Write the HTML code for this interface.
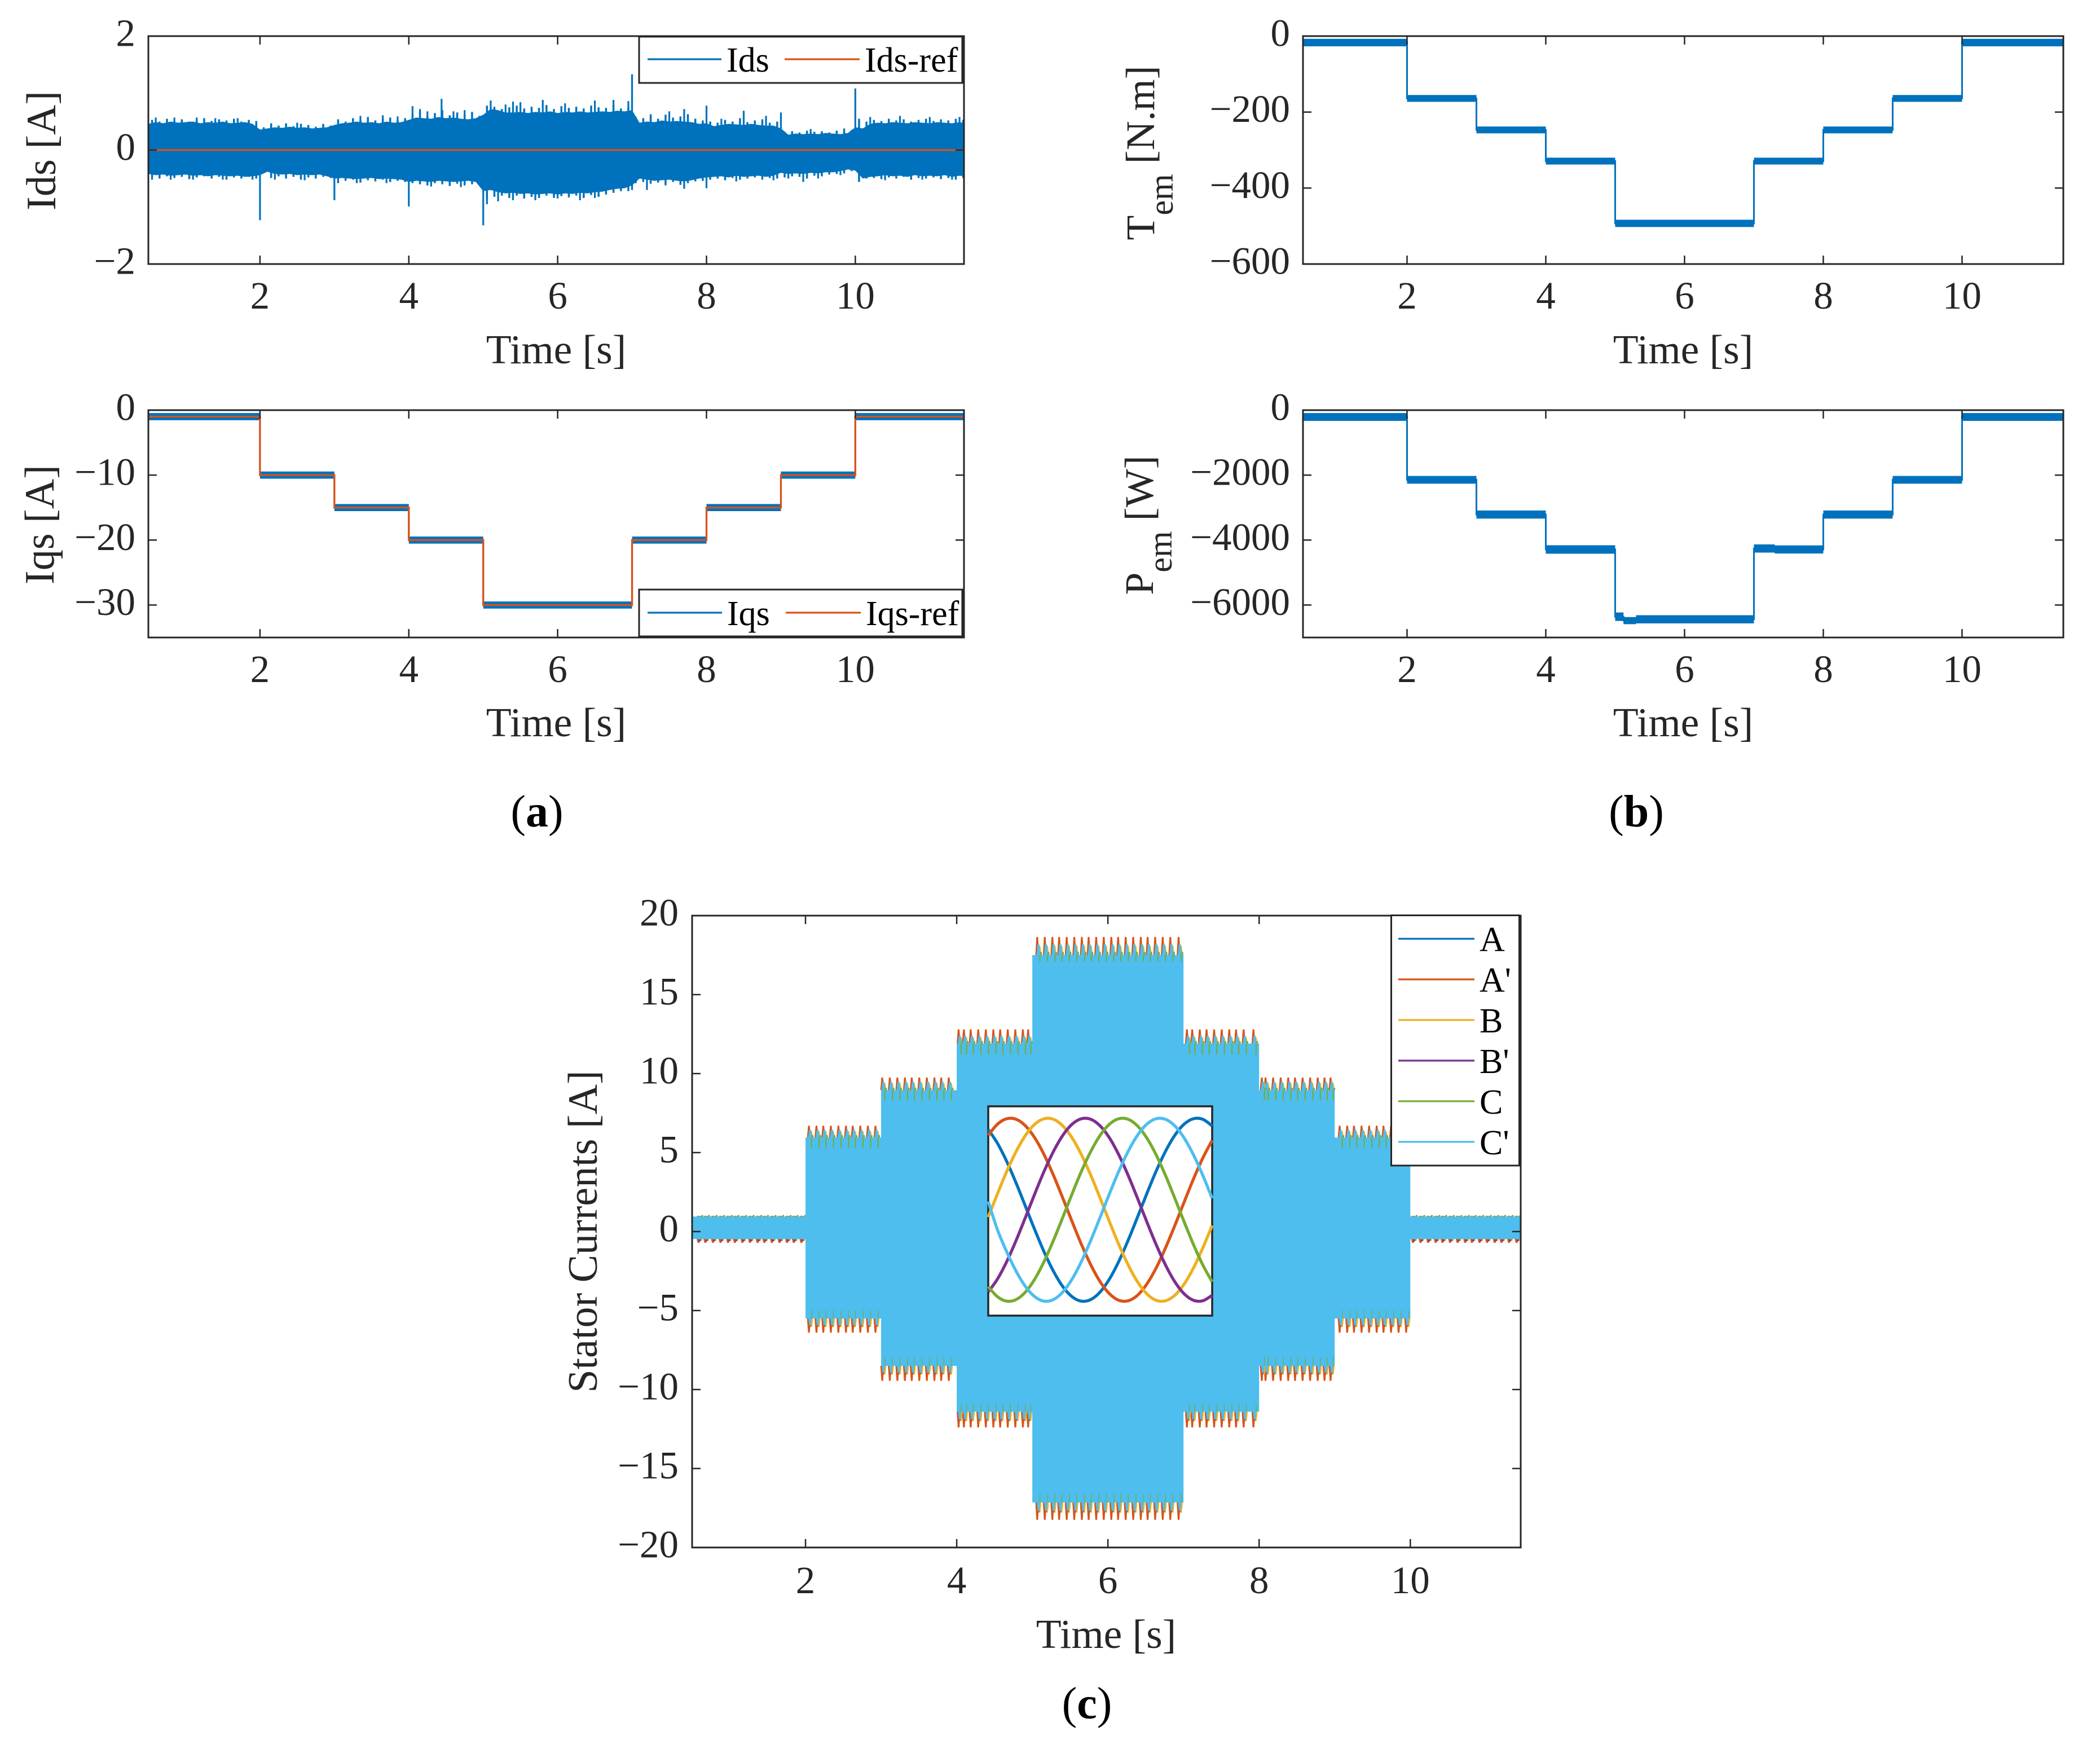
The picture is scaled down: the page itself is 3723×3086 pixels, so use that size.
<!DOCTYPE html>
<html lang="en">
<head>
<meta charset="utf-8">
<title>Ids, Iqs, Tem, Pem and Stator Currents</title>
<style>
html,body{margin:0;padding:0;background:#fff;}
svg{display:block;}
text{font-family:"Liberation Serif","Times New Roman",serif;}
.tick-label{font-size:69px;fill:#262626;}
.axis-title{font-size:74px;fill:#262626;}
.x-title{font-size:73.5px;fill:#262626;}
.legend-text{font-size:62px;fill:#000;}
.caption{font-size:80px;fill:#000;}
</style>
</head>
<body>
<svg id="figure" xmlns="http://www.w3.org/2000/svg" width="3723" height="3086" viewBox="0 0 3723 3086">
<defs>
<clipPath id="clip-ids"><rect x="263" y="64" width="1446" height="404"/></clipPath>
<clipPath id="clip-iqs"><rect x="263" y="727" width="1446" height="403"/></clipPath>
<clipPath id="clip-tem"><rect x="2310" y="64" width="1348" height="404"/></clipPath>
<clipPath id="clip-pem"><rect x="2310" y="727" width="1348" height="403"/></clipPath>
<clipPath id="clip-stator"><rect x="1227" y="1623" width="1469" height="1120"/></clipPath>
</defs>
<rect x="0" y="0" width="3723" height="3086" fill="#fff"/>

<g>
<g id="marks-ids" clip-path="url(#clip-ids)"></g>
<g id="axes-ids"></g>
<text class="axis-title" transform="translate(98,267) rotate(-90)" text-anchor="middle">Ids [A]</text>
<text class="x-title" x="986" y="644" text-anchor="middle">Time [s]</text>
<g>
<rect x="1133" y="65" width="573" height="82" fill="#fff" stroke="#262626" stroke-width="3"/>
<line x1="1148" y1="105" x2="1279" y2="105" stroke="#0072BD" stroke-width="3.3"/>
<text class="legend-text" x="1288" y="127">Ids</text>
<line x1="1391" y1="105" x2="1524" y2="105" stroke="#D95319" stroke-width="3.3"/>
<text class="legend-text" x="1533" y="127">Ids-ref</text>
</g>
</g>

<g>
<g id="marks-iqs" clip-path="url(#clip-iqs)"></g>
<g id="axes-iqs"></g>
<text class="axis-title" transform="translate(95,930) rotate(-90)" text-anchor="middle">Iqs [A]</text>
<text class="x-title" x="986" y="1305" text-anchor="middle">Time [s]</text>
<g>
<rect x="1133" y="1045" width="573" height="83" fill="#fff" stroke="#262626" stroke-width="3"/>
<line x1="1148" y1="1086" x2="1280" y2="1086" stroke="#0072BD" stroke-width="3.3"/>
<text class="legend-text" x="1289" y="1108">Iqs</text>
<line x1="1393" y1="1086" x2="1526" y2="1086" stroke="#D95319" stroke-width="3.3"/>
<text class="legend-text" x="1535" y="1108">Iqs-ref</text>
</g>
</g>

<g>
<g id="marks-tem" clip-path="url(#clip-tem)"></g>
<g id="axes-tem"></g>
<text class="axis-title" style="font-size:72px" transform="translate(2046,271) rotate(-90)" text-anchor="middle">T<tspan dy="33" font-size="60">em</tspan><tspan dy="-33"> [N.m]</tspan></text>
<text class="x-title" x="2984" y="644" text-anchor="middle">Time [s]</text>
</g>

<g>
<g id="marks-pem" clip-path="url(#clip-pem)"></g>
<g id="axes-pem"></g>
<text class="axis-title" style="font-size:72px" transform="translate(2044,931) rotate(-90)" text-anchor="middle">P<tspan dy="33" font-size="60">em</tspan><tspan dy="-33"> [W]</tspan></text>
<text class="x-title" x="2984" y="1305" text-anchor="middle">Time [s]</text>
</g>

<g>
<g id="marks-stator" clip-path="url(#clip-stator)"></g>
<g id="axes-stator"></g>
<text class="axis-title" transform="translate(1058,2183) rotate(-90)" text-anchor="middle">Stator Currents [A]</text>
<text class="x-title" x="1961" y="2921" text-anchor="middle">Time [s]</text>
<g id="inset">
<rect x="1752" y="1961" width="397" height="371" fill="#fff" stroke="#262626" stroke-width="3.5"/>
</g>
<g>
<rect x="2466.5" y="1622.5" width="227" height="443.5" fill="#fff" stroke="#262626" stroke-width="3"/>
<line x1="2479" y1="1664" x2="2614" y2="1664" stroke="#0072BD" stroke-width="3.3"/>
<text class="legend-text" x="2623" y="1686">A</text>
<line x1="2479" y1="1736" x2="2614" y2="1736" stroke="#D95319" stroke-width="3.3"/>
<text class="legend-text" x="2623" y="1758">A'</text>
<line x1="2479" y1="1808" x2="2614" y2="1808" stroke="#EDB120" stroke-width="3.3"/>
<text class="legend-text" x="2623" y="1830">B</text>
<line x1="2479" y1="1880" x2="2614" y2="1880" stroke="#7E2F8E" stroke-width="3.3"/>
<text class="legend-text" x="2623" y="1902">B'</text>
<line x1="2479" y1="1952" x2="2614" y2="1952" stroke="#77AC30" stroke-width="3.3"/>
<text class="legend-text" x="2623" y="1974">C</text>
<line x1="2479" y1="2024" x2="2614" y2="2024" stroke="#4DBEEE" stroke-width="3.3"/>
<text class="legend-text" x="2623" y="2046">C'</text>
</g>
</g>

<text class="caption" x="952" y="1465" text-anchor="middle">(<tspan font-weight="bold">a</tspan>)</text>
<text class="caption" x="2901" y="1465" text-anchor="middle">(<tspan font-weight="bold">b</tspan>)</text>
<text class="caption" x="1927" y="3046" text-anchor="middle">(<tspan font-weight="bold">c</tspan>)</text>
</svg>

<script>
// ---------- shared axis values ----------
const xLimits = [0.5, 11.46];
const xTickValues = [2, 4, 6, 8, 10];
const xTickLabels = ['2', '4', '6', '8', '10'];

// ---------- Ids panel data ----------
const idsYTicks = [2, 0, -2];
const idsYLabels = ['2', '0', '\u22122'];
const idsTimes = [0.5,0.6,0.7,0.8,0.9,1.0,1.1,1.2,1.3,1.4,1.5,1.6,1.7,1.8,1.9,
 2.0,2.1,2.2,2.3,2.4,2.5,2.6,2.7,2.8,2.9,
 3.0,3.1,3.2,3.3,3.4,3.5,3.6,3.7,3.8,3.9,
 4.0,4.1,4.2,4.3,4.4,4.5,4.6,4.7,4.8,4.9,
 5.0,5.1,5.2,5.3,5.4,5.5,5.6,5.7,5.8,5.9,6.0,6.1,6.2,6.3,6.4,6.5,6.6,6.7,6.8,6.9,
 7.0,7.1,7.2,7.3,7.4,7.5,7.6,7.7,7.8,7.9,
 8.0,8.1,8.2,8.3,8.4,8.5,8.6,8.7,8.8,8.9,
 9.0,9.1,9.2,9.3,9.4,9.5,9.6,9.7,9.8,9.9,
 10.0,10.1,10.2,10.3,10.4,10.5,10.6,10.7,10.8,10.9,11.0,11.1,11.2,11.3,11.4,11.5];
const idsUpper = [.46,.49,.47,.50,.48,.49,.50,.47,.49,.48,.50,.47,.48,.49,.46,
 .36,.38,.40,.39,.41,.39,.40,.38,.39,.40,
 .44,.47,.48,.50,.48,.49,.47,.50,.48,.49,
 .53,.57,.56,.55,.58,.56,.57,.55,.54,.56,
 .62,.72,.70,.66,.66,.67,.65,.67,.66,.68,.65,.67,.66,.68,.66,.67,.68,.67,.69,.68,
 .70,.48,.50,.49,.52,.50,.51,.50,.49,.46,
 .47,.42,.44,.46,.45,.44,.46,.44,.43,.43,
 .38,.27,.29,.28,.29,.28,.30,.29,.28,.30,
 .40,.38,.46,.48,.47,.49,.48,.47,.49,.48,.47,.49,.48,.47,.49,.47];
const idsLower = [-.42,-.44,-.43,-.45,-.44,-.43,-.45,-.44,-.46,-.44,-.45,-.46,-.45,-.47,-.46,
 -.44,-.38,-.42,-.43,-.42,-.44,-.43,-.44,-.43,-.46,
 -.50,-.49,-.50,-.51,-.50,-.49,-.51,-.50,-.51,-.52,
 -.56,-.54,-.55,-.56,-.54,-.55,-.56,-.55,-.54,-.56,
 -.72,-.70,-.74,-.76,-.75,-.77,-.76,-.78,-.77,-.76,-.78,-.76,-.77,-.75,-.76,-.74,-.73,-.70,-.68,-.67,
 -.62,-.50,-.52,-.54,-.53,-.52,-.54,-.55,-.53,-.50,
 -.48,-.47,-.46,-.48,-.45,-.47,-.46,-.45,-.47,-.45,
 -.40,-.42,-.41,-.42,-.40,-.41,-.39,-.39,-.37,-.34,
 -.36,-.50,-.47,-.46,-.44,-.46,-.45,-.47,-.44,-.46,-.45,-.46,-.44,-.47,-.45,-.46];
const idsHairTimes = [0.55,0.65,0.75,0.85,0.95,1.05,1.15,1.25,1.35,1.45,1.55,1.65,1.75,1.85,1.95,
 2.05,2.15,2.25,2.35,2.45,2.55,2.65,2.75,2.85,2.95,
 3.05,3.15,3.25,3.35,3.45,3.55,3.65,3.75,3.85,3.95,
 4.05,4.15,4.25,4.35,4.45,4.55,4.65,4.75,4.85,4.95,
 5.05,5.15,5.25,5.35,5.45,5.55,5.65,5.75,5.85,5.95,6.05,6.15,6.25,6.35,6.45,6.55,6.65,6.75,6.85,6.95,
 7.05,7.15,7.25,7.35,7.45,7.55,7.65,7.75,7.85,7.95,
 8.05,8.15,8.25,8.35,8.45,8.55,8.65,8.75,8.85,8.95,
 9.05,9.15,9.25,9.35,9.45,9.55,9.65,9.75,9.85,9.95,
 10.05,10.15,10.25,10.35,10.45,10.55,10.65,10.75,10.85,10.95,11.05,11.15,11.25,11.35,11.45];
const idsHairUpper = [.53,.50,.55,.51,.54,.50,.53,.56,.51,.54,.52,.55,.50,.53,.51,
 .40,.45,.43,.47,.42,.46,.44,.41,.45,.43,
 .54,.50,.56,.53,.58,.52,.55,.57,.53,.56,
 .63,.68,.60,.65,.70,.61,.66,.62,.67,.60,
 .78,.76,.72,.75,.78,.73,.76,.74,.79,.72,.77,.74,.76,.73,.78,.75,.74,.79,.73,.76,
 .58,.56,.60,.55,.62,.57,.59,.63,.55,.52,
 .50,.48,.53,.50,.56,.49,.52,.54,.48,.50,
 .32,.33,.31,.34,.32,.33,.31,.34,.33,.35,
 .55,.50,.53,.51,.55,.52,.54,.50,.53,.55,.51,.54,.52,.55,.53];
const idsHairLower = [-.47,-.50,-.46,-.49,-.47,-.51,-.48,-.46,-.50,-.47,-.52,-.48,-.50,-.47,-.50,
 -.40,-.49,-.46,-.50,-.47,-.52,-.48,-.50,-.47,-.49,
 -.58,-.54,-.52,-.57,-.53,-.55,-.52,-.56,-.54,-.56,
 -.58,-.60,-.62,-.58,-.60,-.63,-.59,-.62,-.60,-.58,
 -.86,-.82,-.80,-.84,-.80,-.85,-.82,-.84,-.80,-.84,-.81,-.83,-.80,-.84,-.79,-.82,-.78,-.75,-.72,-.72,
 -.58,-.56,-.59,-.57,-.60,-.56,-.61,-.58,-.55,-.54,
 -.52,-.50,-.53,-.49,-.52,-.50,-.48,-.52,-.49,-.50,
 -.48,-.46,-.47,-.50,-.45,-.46,-.43,-.42,-.41,-.37,
 -.55,-.50,-.49,-.51,-.48,-.50,-.47,-.52,-.49,-.50,-.48,-.51,-.49,-.52,-.49];
const idsPeakTimes = [0.6,0.85,1.15,1.4,1.7,2.15,2.5,2.85,3.35,3.65,3.85,4.05,4.15,4.25,4.44,4.6,4.75,5.1,5.3,5.4,5.5,5.8,6.1,6.5,6.75,6.95,7.0,7.25,7.5,7.7,8.0,8.2,8.5,8.8,9.0,9.4,9.85,10.0,10.2,10.6,11.0,11.4,
 0.55,0.8,1.1,1.5,1.9,2.0,2.2,2.6,3.0,3.3,3.7,4.0,4.3,4.7,5.0,5.05,5.2,5.4,5.7,6.0,6.3,6.5,7.0,7.2,7.45,7.7,8.0,8.4,8.9,9.1,9.3,9.5,9.8,10.05,10.4,10.9,11.3];
const idsPeakValues = [.57,.57,.57,.56,.56,.47,.48,.46,.60,.61,.59,.77,.72,.68,.90,.68,.70,.87,.80,.85,.84,.88,.82,.87,.88,.86,1.33,.63,.68,.72,.78,.55,.69,.60,.66,.37,.38,1.08,.58,.60,.58,.58,
 -.52,-.52,-.52,-.52,-.52,-1.23,-.52,-.53,-.88,-.58,-.58,-.99,-.64,-.65,-1.32,-.95,-.90,-.88,-.88,-.85,-.88,-.84,-.70,-.70,-.62,-.68,-.67,-.55,-.53,-.50,-.56,-.50,-.44,-.56,-.53,-.52,-.52];
const idsRefTimes = [0.5, 11.5];
const idsRefValues = [0, 0];

// ---------- Iqs panel data ----------
const iqsYTicks = [0, -10, -20, -30];
const iqsYLabels = ['0', '\u221210', '\u221220', '\u221230'];
const iqsTimes = [0.5, 2, 3, 4, 5, 7, 8, 9, 10, 11.5];
const iqsLevels = [-1, -10, -15, -20, -30, -20, -15, -10, -1];
const iqsSpread = [0.55, 0.55, 0.55, 0.55, 0.55, 0.55, 0.55, 0.55, 0.55];
const iqsRefLevels = [-1, -10, -15, -20, -30, -20, -15, -10, -1];

// ---------- Tem panel data ----------
const temYTicks = [0, -200, -400, -600];
const temYLabels = ['0', '\u2212200', '\u2212400', '\u2212600'];
const temTimes = [0.5, 2, 3, 4, 5, 7, 8, 9, 10, 11.5];
const temLevels = [-17, -164, -247, -329, -493, -329, -247, -164, -17];
const temSpread = [10, 9, 9, 9, 9.5, 9, 9, 9, 10];

// ---------- Pem panel data ----------
const pemYTicks = [0, -2000, -4000, -6000];
const pemYLabels = ['0', '\u22122000', '\u22124000', '\u22126000'];
const pemTimes = [0.5, 2, 3, 4, 5, 5.12, 5.3, 7, 7.3, 8, 9, 10, 11.5];
const pemLevels = [-210, -2145, -3215, -4290, -6360, -6480, -6440, -4260, -4290, -3215, -2145, -210];
const pemSpread = [120, 120, 125, 130, 130, 110, 125, 125, 125, 125, 120, 120];

// ---------- Stator currents data ----------
const statorYTicks = [20, 15, 10, 5, 0, -5, -10, -15, -20];
const statorYLabels = ['20', '15', '10', '5', '0', '\u22125', '\u221210', '\u221215', '\u221220'];
const phaseEdges = [0.5, 2, 3, 4, 5, 7, 8, 9, 10, 11.5];
const solidTop = [.95, 5.95, 8.95, 11.9, 17.5, 11.9, 8.95, 5.95, .95];
const solidBottom = [-.47, -5.5, -8.5, -11.4, -17.15, -11.4, -8.5, -5.5, -.47];
const aPrimeTop = [1.0, 6.7, 9.75, 12.8, 18.65, 12.8, 9.75, 6.7, 1.0];
const bTop = [1.0, 6.35, 9.4, 12.3, 18.1, 12.3, 9.4, 6.35, 1.0];
const cPrimeTop = [.98, 6.45, 9.5, 12.4, 18.2, 12.4, 9.5, 6.45, .98];
const cDipTop = [.9, 5.3, 8.3, 11.2, 17.1, 11.2, 8.3, 5.3, .9];
const cCapTop = [1.05, 6.1, 9.1, 12.05, 17.7, 12.05, 9.1, 6.1, 1.05];
const aPrimeBottom = [-.72, -6.4, -9.45, -12.4, -18.25, -12.4, -9.45, -6.4, -.72];
const bBottom = [-.6, -6.05, -9.05, -12.0, -17.8, -12.0, -9.05, -6.05, -.6];
const bPrimeBottom = [-.62, -6.0, -9.0, -11.95, -17.75, -11.95, -9.0, -6.0, -.62];
const cPrimeBottom = [-.5, -5.95, -8.95, -11.9, -17.7, -11.9, -8.95, -5.95, -.5];
const cDipBottom = [-.47, -5.0, -7.95, -10.9, -16.6, -10.9, -7.95, -5.0, -.47];
const rippleTimes = [0.59,0.68,0.78,0.88,0.98,1.07,1.17,1.27,1.37,1.46,1.56,1.66,1.76,1.85,1.95,
 2.05,2.15,2.24,2.34,2.44,2.54,2.63,2.73,2.83,2.93,
 3.02,3.12,3.22,3.32,3.41,3.51,3.61,3.71,3.80,3.90,
 4.03,4.10,4.19,4.29,4.39,4.49,4.58,4.68,4.78,4.88,4.95,
 5.07,5.17,5.27,5.36,5.46,5.56,5.66,5.75,5.85,5.95,6.05,6.14,6.24,6.34,6.44,6.53,6.63,6.73,6.83,6.94,
 7.05,7.12,7.22,7.31,7.41,7.51,7.61,7.70,7.80,7.93,
 8.04,8.09,8.19,8.29,8.39,8.48,8.58,8.68,8.78,8.87,8.95,
 9.07,9.17,9.26,9.36,9.46,9.56,9.65,9.75,9.85,9.95,
 10.04,10.14,10.24,10.34,10.43,10.53,10.63,10.73,10.82,10.92,11.02,11.12,11.21,11.31,11.41];

// ---------- Inset data (ms, A) ----------
const insetTimes = [0,4,8,12,16,20,24,28,32,36,40,44,48,52,56,60,64,68,72,76,80,84,88,92,96];
const insetA = [15.57,12.90,9.40,5.29,.84,-3.65,-7.88,-11.55,-14.47,-16.40,-17.24,-16.92,-15.47,-12.98,-9.61,-5.58,-1.17,3.33,7.63,11.41,14.48,16.60,17.64,17.52,16.25];
const insetAPrime = [14.48,16.60,17.64,17.52,16.25,13.94,10.71,6.79,2.42,-2.09,-6.44,-10.33,-13.54,-15.84,-17.08,-17.16,-16.11,-13.96,-10.88,-7.05,-2.78,1.72,6.13,10.14,13.49];
const insetB = [-1.17,3.33,7.63,11.41,14.48,16.60,17.64,17.52,16.25,13.94,10.71,6.79,2.42,-2.09,-6.44,-10.33,-13.54,-15.84,-17.08,-17.16,-16.11,-13.96,-10.88,-7.05,-2.78];
const insetBPrime = [-15.47,-12.98,-9.61,-5.58,-1.17,3.33,7.63,11.41,14.48,16.60,17.64,17.52,16.25,13.94,10.71,6.79,2.42,-2.09,-6.44,-10.33,-13.54,-15.84,-17.08,-17.16,-16.11];
const insetC = [-14.47,-16.40,-17.24,-16.92,-15.47,-12.98,-9.61,-5.58,-1.17,3.33,7.63,11.41,14.48,16.60,17.64,17.52,16.25,13.94,10.71,6.79,2.42,-2.09,-6.44,-10.33,-13.54];
const insetCPrime = [1.8,-3.65,-7.88,-11.55,-14.47,-16.40,-17.24,-16.92,-15.47,-12.98,-9.61,-5.58,-1.17,3.33,7.63,11.41,14.48,16.60,17.64,17.52,16.25,13.94,10.71,6.79,2.42];

// ---------- helpers ----------
const NS = 'http://www.w3.org/2000/svg';
const BLUE = '#0072BD', ORANGE = '#D95319', YELLOW = '#EDB120', PURPLE = '#7E2F8E', GREEN = '#77AC30', SKY = '#4DBEEE';

function scale(d0, d1, r0, r1) {
  return function (v) { return r0 + (v - d0) * (r1 - r0) / (d1 - d0); };
}
function node(parent, tag, attrs, text) {
  const el = document.createElementNS(NS, tag);
  Object.keys(attrs).forEach(function (k) { el.setAttribute(k, attrs[k]); });
  if (text !== undefined) el.textContent = text;
  parent.appendChild(el);
  return el;
}
function n(v) { return v.toFixed(2); }

function drawAxes(prefix, left, right, top, bottom, xs, ys, yTicks, yLabels, labelRight, xLabelBaseline) {
  const g = document.getElementById('axes-' + prefix);
  const tickLen = 15;
  xTickValues.forEach(function (v, i) {
    const px = xs(v);
    const tb = node(g, 'line', {x1: px, x2: px, y1: bottom, y2: bottom - tickLen, stroke: '#262626', 'stroke-width': 2.5});
    
    
    const tt = node(g, 'line', {x1: px, x2: px, y1: top, y2: top + tickLen, stroke: '#262626', 'stroke-width': 2.5});
    
    
    const lb = node(g, 'text', {x: px, y: xLabelBaseline, 'text-anchor': 'middle', 'class': 'tick-label'}, xTickLabels[i]);
    
    
  });
  yTicks.forEach(function (v, i) {
    const py = ys(v);
    const tl = node(g, 'line', {x1: left, x2: left + tickLen, y1: py, y2: py, stroke: '#262626', 'stroke-width': 2.5});
    
    
    const tr = node(g, 'line', {x1: right, x2: right - tickLen, y1: py, y2: py, stroke: '#262626', 'stroke-width': 2.5});
    
    
    const lb = node(g, 'text', {x: labelRight, y: py + 17.5, 'text-anchor': 'end', 'class': 'tick-label'}, yLabels[i]);
    
    
  });
  const frame = node(g, 'rect', {x: left, y: top, width: right - left, height: bottom - top, fill: 'none', stroke: '#262626', 'stroke-width': 3});
  
  
}

function stepPath(times, levels, xs, ys) {
  let d = 'M' + n(xs(times[0])) + ' ' + n(ys(levels[0]));
  levels.forEach(function (lv, i) {
    d += 'V' + n(ys(lv)) + 'H' + n(xs(times[i + 1]));
  });
  return d;
}
function bandPath(times, levels, spread, xs, ys) {
  let d = '';
  levels.forEach(function (lv, i) {
    const x0 = xs(times[i]), x1 = xs(times[i + 1]);
    d += 'M' + n(x0) + ' ' + n(ys(lv + spread[i])) + 'H' + n(x1) + 'V' + n(ys(lv - spread[i])) + 'H' + n(x0) + 'Z';
  });
  return d;
}
function phaseIndex(t) {
  for (let i = 0; i < phaseEdges.length - 1; i++) {
    if (t < phaseEdges[i + 1]) return i;
  }
  return phaseEdges.length - 2;
}
function teethPath(peaks, bases, offset, halfWidth, xs, ys) {
  let d = '';
  rippleTimes.forEach(function (t) {
    const p = phaseIndex(t);
    const cx = xs(t + offset);
    const yb = ys(bases[p]), yp = ys(peaks[p]);
    d += 'M' + n(cx - halfWidth) + ' ' + n(yb) + 'L' + n(cx - halfWidth * 0.45) + ' ' + n(yp) + 'H' + n(cx + halfWidth * 0.45) + 'L' + n(cx + halfWidth) + ' ' + n(yb) + 'Z';
  });
  return d;
}
function hairPath(tips, bases, offset, xs, ys) {
  let d = '';
  rippleTimes.forEach(function (t) {
    const p = phaseIndex(t);
    const cx = xs(t + offset);
    d += 'M' + n(cx) + ' ' + n(ys(bases[p])) + 'V' + n(ys(tips[p]));
  });
  return d;
}
function smoothPath(ts, vs, xs, ys) {
  const px = ts.map(xs), py = vs.map(ys);
  let d = 'M' + n(px[0]) + ' ' + n(py[0]);
  for (let i = 0; i < px.length - 1; i++) {
    const i0 = Math.max(0, i - 1), i3 = Math.min(px.length - 1, i + 2);
    const c1x = px[i] + (px[i + 1] - px[i0]) / 6, c1y = py[i] + (py[i + 1] - py[i0]) / 6;
    const c2x = px[i + 1] - (px[i3] - px[i]) / 6, c2y = py[i + 1] - (py[i3] - py[i]) / 6;
    d += 'C' + n(c1x) + ' ' + n(c1y) + ' ' + n(c2x) + ' ' + n(c2y) + ' ' + n(px[i + 1]) + ' ' + n(py[i + 1]);
  }
  return d;
}

// ---------- Ids ----------
(function () {
  const xs = scale(xLimits[0], xLimits[1], 263, 1709), ys = scale(-2, 2, 468, 64);
  const g = document.getElementById('marks-ids');
  let d = 'M' + n(xs(idsTimes[0])) + ' ' + n(ys(idsUpper[0]));
  idsTimes.forEach(function (t, i) { d += 'L' + n(xs(t)) + ' ' + n(ys(idsUpper[i])); });
  for (let i = idsTimes.length - 1; i >= 0; i--) { d += 'L' + n(xs(idsTimes[i])) + ' ' + n(ys(idsLower[i])); }
  const band = node(g, 'path', {d: d + 'Z', fill: BLUE});
  
  
  let hr = '';
  idsHairTimes.forEach(function (t, i) {
    hr += 'M' + n(xs(t)) + ' ' + n(ys(idsHairLower[i])) + 'V' + n(ys(idsHairUpper[i]));
  });
  const hairs = node(g, 'path', {d: hr, stroke: BLUE, 'stroke-width': 3.5, fill: 'none'});
  
  
  let sp = '';
  idsPeakTimes.forEach(function (t, i) { sp += 'M' + n(xs(t)) + ' ' + n(ys(0)) + 'V' + n(ys(idsPeakValues[i])); });
  const spikes = node(g, 'path', {d: sp, stroke: BLUE, 'stroke-width': 3.2, fill: 'none'});
  
  
  const ref = node(g, 'path', {d: 'M' + n(xs(idsRefTimes[0])) + ' ' + n(ys(idsRefValues[0])) + 'L' + n(xs(idsRefTimes[1])) + ' ' + n(ys(idsRefValues[1])), stroke: ORANGE, 'stroke-width': 3.3, fill: 'none'});
  
  
  drawAxes('ids', 263, 1709, 64, 468, xs, ys, idsYTicks, idsYLabels, 240, 547);
})();

// ---------- Iqs ----------
(function () {
  const xs = scale(xLimits[0], xLimits[1], 263, 1709), ys = scale(-35, 0, 1130, 727);
  const g = document.getElementById('marks-iqs');
  const band = node(g, 'path', {d: bandPath(iqsTimes, iqsLevels, iqsSpread, xs, ys), fill: BLUE});
  
  
  const ln = node(g, 'path', {d: stepPath(iqsTimes, iqsLevels, xs, ys), stroke: BLUE, 'stroke-width': 3, fill: 'none'});
  
  
  const ref = node(g, 'path', {d: stepPath(iqsTimes, iqsRefLevels, xs, ys), stroke: ORANGE, 'stroke-width': 3.3, fill: 'none'});
  
  
  drawAxes('iqs', 263, 1709, 727, 1130, xs, ys, iqsYTicks, iqsYLabels, 240, 1209);
})();

// ---------- Tem ----------
(function () {
  const xs = scale(xLimits[0], xLimits[1], 2310, 3658), ys = scale(-600, 0, 468, 64);
  const g = document.getElementById('marks-tem');
  const band = node(g, 'path', {d: bandPath(temTimes, temLevels, temSpread, xs, ys), fill: BLUE});
  
  
  const ln = node(g, 'path', {d: stepPath(temTimes, temLevels, xs, ys), stroke: BLUE, 'stroke-width': 3, fill: 'none'});
  
  
  drawAxes('tem', 2310, 3658, 64, 468, xs, ys, temYTicks, temYLabels, 2287, 547);
})();

// ---------- Pem ----------
(function () {
  const xs = scale(xLimits[0], xLimits[1], 2310, 3658), ys = scale(-7000, 0, 1130, 727);
  const g = document.getElementById('marks-pem');
  const band = node(g, 'path', {d: bandPath(pemTimes, pemLevels, pemSpread, xs, ys), fill: BLUE});
  
  
  const ln = node(g, 'path', {d: stepPath(pemTimes, pemLevels, xs, ys), stroke: BLUE, 'stroke-width': 3, fill: 'none'});
  
  
  drawAxes('pem', 2310, 3658, 727, 1130, xs, ys, pemYTicks, pemYLabels, 2287, 1209);
})();

// ---------- Stator currents ----------
(function () {
  const xs = scale(xLimits[0], xLimits[1], 1227, 2696), ys = scale(-20, 20, 2743, 1623);
  const g = document.getElementById('marks-stator');

  const t1 = node(g, 'path', {d: teethPath(aPrimeTop, solidTop, -0.005, 3.4, xs, ys), fill: ORANGE});
  
  
  const t2 = node(g, 'path', {d: teethPath(aPrimeBottom, solidBottom, -0.005, 3.4, xs, ys), fill: ORANGE});
  
  
  const t3 = node(g, 'path', {d: teethPath(bTop, solidTop, 0.025, 3.4, xs, ys), fill: YELLOW});
  
  
  const t4 = node(g, 'path', {d: teethPath(bBottom, solidBottom, 0.025, 3.4, xs, ys), fill: YELLOW});
  
  
  const t5 = node(g, 'path', {d: teethPath(bPrimeBottom, solidBottom, 0.012, 2.4, xs, ys), fill: PURPLE});
  
  
  const t6 = node(g, 'path', {d: teethPath(cPrimeTop, solidTop, 0.01, 3.6, xs, ys), fill: SKY});
  
  
  const t7 = node(g, 'path', {d: teethPath(cPrimeBottom, solidBottom, 0.01, 3.0, xs, ys), fill: SKY});
  
  
  const cap = node(g, 'path', {d: hairPath(cCapTop, solidTop, 0.045, xs, ys), stroke: GREEN, 'stroke-width': 3, fill: 'none'});
  
  

  let d = 'M' + n(xs(phaseEdges[0])) + ' ' + n(ys(solidTop[0]));
  solidTop.forEach(function (v, i) { d += 'V' + n(ys(v)) + 'H' + n(xs(phaseEdges[i + 1])); });
  for (let i = solidBottom.length - 1; i >= 0; i--) { d += 'V' + n(ys(solidBottom[i])) + 'H' + n(xs(phaseEdges[i])); }
  const solid = node(g, 'path', {d: d + 'Z', fill: SKY});
  
  

  const h1 = node(g, 'path', {d: hairPath(cDipTop, solidTop, 0.03, xs, ys), stroke: GREEN, 'stroke-width': 2, fill: 'none'});
  
  
  const h2 = node(g, 'path', {d: hairPath(cDipBottom, solidBottom, 0.03, xs, ys), stroke: GREEN, 'stroke-width': 1.5, fill: 'none', opacity: 0.8});
  
  

  drawAxes('stator', 1227, 2696, 1623, 2743, xs, ys, statorYTicks, statorYLabels, 1203, 2824);

  const ix = scale(0, 96, 1752, 2149), iy = scale(-20, 20, 2332, 1961);
  const ig = document.getElementById('inset');
  const w = 5.3;
  const c1 = node(ig, 'path', {d: smoothPath(insetTimes, insetA, ix, iy), stroke: BLUE, 'stroke-width': w, fill: 'none'});
  
  
  const c2 = node(ig, 'path', {d: smoothPath(insetTimes, insetAPrime, ix, iy), stroke: ORANGE, 'stroke-width': w, fill: 'none'});
  
  
  const c3 = node(ig, 'path', {d: smoothPath(insetTimes, insetB, ix, iy), stroke: YELLOW, 'stroke-width': w, fill: 'none'});
  
  
  const c4 = node(ig, 'path', {d: smoothPath(insetTimes, insetBPrime, ix, iy), stroke: PURPLE, 'stroke-width': w, fill: 'none'});
  
  
  const c5 = node(ig, 'path', {d: smoothPath(insetTimes, insetC, ix, iy), stroke: GREEN, 'stroke-width': w, fill: 'none'});
  
  
  const c6 = node(ig, 'path', {d: smoothPath(insetTimes, insetCPrime, ix, iy), stroke: SKY, 'stroke-width': w, fill: 'none'});
  
  
})();
</script>
</body>
</html>
